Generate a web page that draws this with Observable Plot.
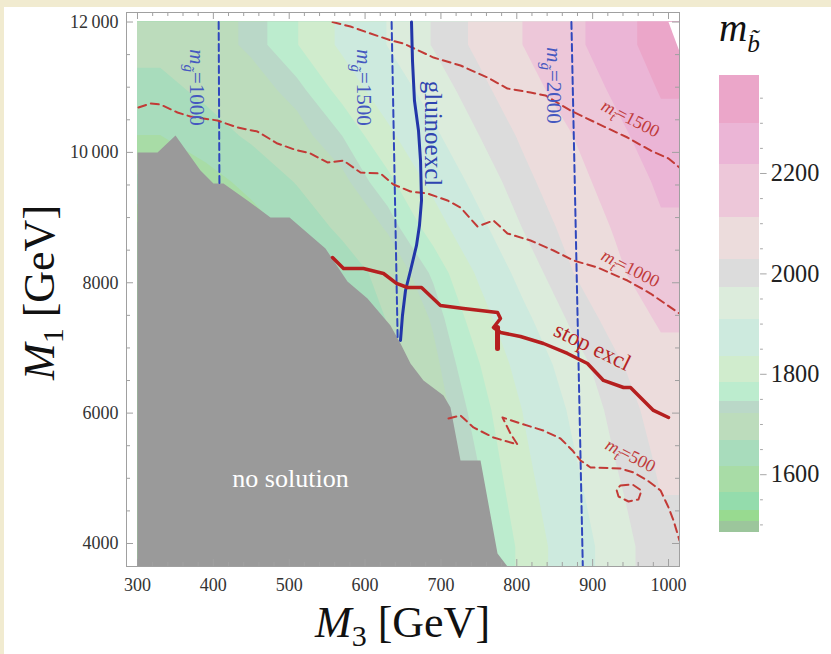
<!DOCTYPE html>
<html><head><meta charset="utf-8">
<script src="https://cdn.jsdelivr.net/npm/d3@7"></script>
<script src="https://cdn.jsdelivr.net/npm/@observablehq/plot@0.6"></script>
<style>
body{margin:0;background:#f1ebd0;width:831px;height:654px;overflow:hidden;}
#box{position:absolute;left:4px;top:7px;width:827px;height:647px;background:#fff;overflow:hidden}
#inner,#outer{position:absolute;left:0;top:0}
#legend{position:absolute;left:715px;top:0}
svg{overflow:visible}
</style></head><body><div id="box"><div id="inner"></div><div id="outer"></div><div id="legend"></div></div>
<script>
// ---- data: sbottom mass sampled on a grid (cell centres) ----
const M3cells = [330, 390, 450, 510, 570, 630, 690, 750, 810, 870, 930, 990];
const M1cells = [11650, 10950, 10250, 9550, 8850, 8150, 7450, 6750, 6050, 5350, 4650, 3950];
const msbottom = [
  [1685, 1706, 1727, 1781, 1846, 1912, 1977, 2044, 2116, 2193, 2266, 2337],
  [1653, 1680, 1706, 1732, 1799, 1869, 1938, 2008, 2077, 2153, 2233, 2306],
  [1615, 1646, 1677, 1707, 1746, 1821, 1897, 1972, 2041, 2107, 2192, 2273],
  [1555, 1594, 1633, 1672, 1711, 1770, 1852, 1933, 2011, 2077, 2152, 2236],
  [1500, 1545, 1590, 1636, 1681, 1726, 1805, 1892, 1978, 2050, 2121, 2204],
  [1430, 1482, 1535, 1587, 1639, 1691, 1752, 1844, 1937, 2022, 2095, 2172],
  [1402, 1456, 1510, 1564, 1618, 1672, 1726, 1808, 1895, 1981, 2055, 2126],
  [1387, 1441, 1495, 1549, 1603, 1657, 1711, 1781, 1861, 1940, 2016, 2083],
  [1376, 1430, 1484, 1538, 1592, 1646, 1700, 1762, 1839, 1916, 1992, 2058],
  [1367, 1421, 1475, 1529, 1583, 1637, 1691, 1749, 1825, 1900, 1975, 2041],
  [1358, 1412, 1466, 1520, 1574, 1628, 1682, 1737, 1811, 1884, 1958, 2026],
  [1349, 1403, 1457, 1511, 1565, 1619, 1673, 1727, 1797, 1870, 1942, 2012]
];
// contour bands of the legend
const bandLo = [1484, 1506, 1528, 1565, 1616, 1669, 1721, 1746, 1783, 1835, 1910, 1973, 2028, 2113, 2218, 2300];
const bandHi = [1506, 1528, 1565, 1616, 1669, 1721, 1746, 1783, 1835, 1910, 1973, 2028, 2113, 2218, 2300, 2395];
const bandColors = ["#9cc69c", "#98da90", "#94dcac", "#a8dca6", "#a8dcbc", "#bcdcbc", "#bad8c8", "#bcecce",
                    "#d0eccd", "#cdeade", "#dcecdc", "#dcdcdc", "#ecdcdc", "#edc7d9", "#ebb5d6", "#eba6c9"];
const legendTicks = [1600, 1800, 2000, 2200];

const xMajor = [300, 400, 500, 600, 700, 800, 900, 1000];
const yMajor = [4000, 6000, 8000, 10000, 12000];

// no-solution region boundary [M3, M1]
const noSolution = [[300,3647],[300,10000],[326.4,9998],[350.1,10259],[383,9722],[400.1,9523],[413.3,9523],[445,9262],
  [475.3,9001],[500.4,9001],[547.8,8526],[576.8,8019],[603.2,7758],[633.5,7344],[646.7,7068],[659.9,6761],[677,6501],
  [703.4,6270],[712.6,6086],[725.8,5273],[752.2,5273],[774.6,3847],[787.7,3647]];
const noData = [[1000,12000],[1016,12000],[1016,11500]];

// gluino mass lines (dashed blue)
const mg1000 = [[407,12000],[408,9520]];
const mg1500 = [[635,12000],[643,7110]];
const mg2000 = [[872,12000],[887,3660]];
// gluino exclusion (solid blue)
const gluinoExcl = [[661.2,12000],[662.5,11409],[665.1,10796],[670.4,10336],[673.1,9875],[674.4,9262],[671.7,8878],
  [667.8,8572],[659.9,8188],[653.3,7881],[649.3,7498],[646.7,7114]];
// stop exclusion (solid red)
const stopExcl = [[557.1,8387],[571.6,8219],[597.9,8219],[624.3,8142],[641.4,7989],[655.9,7927],[674.4,7927],[699.4,7651],
  [729.7,7605],[774.6,7544],[778.5,7452],[769.3,7314],[778.5,7237],[804.9,7176],[835.2,7068],[866.8,6915],[893.2,6762],
  [914.3,6501],[940.7,6393],[949.9,6393],[967,6194],[980.2,6041],[1000,5933]];
const stopStub = [[774.6,7314],[774.6,6992]];
// stop mass contours (dashed red)
const mt1500 = [[557.1,12000],[580.8,11931],[603.2,11839],[634.8,11716],[650.6,11670],[670.4,11563],[690.2,11455],
  [725.8,11333],[761.4,11149],[787.7,10980],[818.1,10919],[837.8,10873],[870.8,10642],[906.4,10443],[945.9,10228],
  [976.3,10029],[1000,9906],[1014.5,9768]];
const mt1000 = [[301.3,10688],[317.1,10750],[330.3,10734],[352.7,10612],[369.8,10550],[405.4,10489],[431.8,10382],
  [458.1,10320],[484.5,10136],[506.9,10044],[528,9983],[550.4,9845],[571.6,9875],[594,9691],[620.3,9676],[637.5,9507],
  [659.9,9400],[682.3,9369],[708.7,9262],[725.8,9154],[748.2,8863],[769.3,8955],[787.7,8756],[818.1,8648],[848.4,8495],
  [874.8,8342],[906.4,8234],[945.9,8034],[976.2,7835],[1014.5,7528]];
const mt500 = [[710,5918],[725.8,5964],[742.9,5780],[769.3,5626],[800.9,5519],[791.7,5687],[781.2,5933],[804.9,5841],
  [835.2,5733],[857.6,5611],[873.4,5427],[884,5274],[897.2,5166],[936.7,5151],[953.8,5090],[972.3,4967],[989.5,4814],
  [1000,4553],[1006.6,4353],[1014.5,4047]];
const mt500loop = [[936.7,4890],[952.5,4905],[964.4,4813],[960.4,4675],[947.3,4644],[934.1,4721],[931.4,4829],[936.7,4890]];

// annotations [M3, M1, text]
const lblNoSol = [[501.7, 4997, "no solution"]];
const lblGluino = [[690.2, 10290, "gluinoexcl"]];
const lblStop = [[899.8, 7022, "stop excl"]];
const lblMg = [[377.8, 10995, "m|g\u0303|=1000"], [597.9, 10995, "m|g\u0303|=1500"], [848.4, 11026, "m|g\u0303|=2000"]];
const lblMt = [[949.9, 10520, "m|t\u0303|=1500"], [949.9, 8219, "m|t\u0303|=1000"], [949.9, 5350, "m|t\u0303|=500"]];

// ---- layout ----
const W = 827, H = 647;
const outerDomX = [285.5, 1014.5], outerDomY = [3647, 12146];
const dataDomX = [300, 1014.5], dataDomY = [3647, 12000];
const mL = 122, mR = 152, mT = 5, mB = 88;
const FW = W - mL - mR, FH = H - mT - mB;
const kx = FW / (outerDomX[1] - outerDomX[0]), ky = FH / (outerDomY[1] - outerDomY[0]);
const iL = mL + (dataDomX[0] - outerDomX[0]) * kx;
const iT = mT + (outerDomY[1] - dataDomY[1]) * ky;
const serif = "'Liberation Serif', 'Times New Roman', serif";
const thresholds = bandLo.map((v, i) => i === 0 ? 0 : v);
const xMinor = d3.range(300, 1001, 20).filter(v => v % 100 !== 0);
const yMinor = d3.range(4000, 12001, 500).filter(v => v % 2000 !== 0);
const stepX = M3cells[1] - M3cells[0], stepY = M1cells[0] - M1cells[1];
// pad the grid by repeating edge cells so the contour fills the whole data rectangle
const grid = [msbottom[0], ...msbottom, msbottom[msbottom.length - 1]].map(r => [r[0], ...r, r[r.length - 1]]);
const fmtY = d => d >= 10000 ? `${Math.floor(d / 1000)}\u2009${String(d % 1000).padStart(3, "0")}` : String(d);
const X = d => d[0], Y = d => d[1], T = d => d[2];
const tickColor = "#a0a0a0";

const inner = Plot.plot({
  width: W, height: H, marginLeft: iL, marginRight: mR, marginTop: iT, marginBottom: mB,
  x: {domain: dataDomX, axis: null},
  y: {domain: dataDomY, axis: null},
  color: {type: "ordinal", domain: thresholds, range: bandColors},
  style: {fontFamily: serif, fontSize: "18px", color: "#333", background: "transparent"},
  marks: [
    Plot.contour(grid.flat(), {
      width: M3cells.length + 2, height: M1cells.length + 2,
      x1: M3cells[0] - 1.5 * stepX, x2: M3cells[M3cells.length - 1] + 1.5 * stepX,
      y1: M1cells[0] + 1.5 * stepY, y2: M1cells[M1cells.length - 1] - 1.5 * stepY,
      fill: Plot.identity, thresholds, stroke: "none", clip: true
    }),
    Plot.line(noData, {x: X, y: Y, fill: "white", stroke: "none", clip: true}),
    Plot.line(noSolution, {x: X, y: Y, fill: "#9a9a9a", stroke: "none", clip: true}),
    ...[mg1000, mg1500, mg2000].map(l => Plot.line(l, {x: X, y: Y, stroke: "#2f47bd", strokeWidth: 2, strokeDasharray: "7,4"})),
    ...[mt1500, mt1000, mt500, mt500loop].map(l => Plot.line(l, {x: X, y: Y, stroke: "#c23a36", strokeWidth: 2, strokeDasharray: "8,5", clip: true})),
    Plot.line(gluinoExcl, {x: X, y: Y, stroke: "#2236a8", strokeWidth: 3}),
    Plot.line(stopExcl, {x: X, y: Y, stroke: "#b51f1f", strokeWidth: 3.5, strokeLinejoin: "round"}),
    Plot.line(stopStub, {x: X, y: Y, stroke: "#b51f1f", strokeWidth: 5}),
    Plot.text(lblNoSol, {x: X, y: Y, text: T, fill: "white", fontSize: 26}),
    Plot.text(lblGluino, {x: X, y: Y, text: T, fill: "#2f44b0", fontSize: 25, rotate: 90}),
    Plot.text(lblStop, {x: X, y: Y, text: T, fill: "#b52424", fontSize: 23, rotate: 26}),
    Plot.text(lblMg, {x: X, y: Y, text: T, fill: "#4558c0", fontSize: 21, rotate: 90}),
    Plot.text(lblMt, {x: X, y: Y, text: T, fill: "#c03a3a", fontSize: 18, rotate: 27})
  ]
});
document.getElementById("inner").append(inner);

// rich text (italic m with tilde subscript)
d3.select(inner).selectAll("text").each(function () {
  const s = this.textContent;
  if (!s.includes("|")) return;
  const [a, b, c] = s.split("|");
  const fs = parseFloat(getComputedStyle(this).fontSize) || 18;
  const t = d3.select(this); t.text(null);
  t.append("tspan").attr("font-style", "italic").text(a);
  t.append("tspan").attr("font-style", "italic").attr("font-size", fs * 0.72).attr("dy", fs * 0.28).text(b);
  t.append("tspan").attr("dy", -fs * 0.28).text(c);
});

const outer = Plot.plot({
  width: W, height: H, marginLeft: mL, marginRight: mR, marginTop: mT, marginBottom: mB,
  x: {domain: outerDomX},
  y: {domain: outerDomY},
  style: {fontFamily: serif, fontSize: "18px", color: "#333", background: "transparent"},
  marks: [
    Plot.frame({stroke: tickColor}),
    Plot.tickX(xMajor, {x: d => d, insetTop: FH - 7, stroke: tickColor}),
    Plot.tickX(xMajor, {x: d => d, insetBottom: FH - 7, stroke: tickColor}),
    Plot.tickX(xMinor, {x: d => d, insetTop: FH - 4, stroke: tickColor}),
    Plot.tickX(xMinor, {x: d => d, insetBottom: FH - 4, stroke: tickColor}),
    Plot.tickY(yMajor, {y: d => d, insetRight: FW - 7, stroke: tickColor}),
    Plot.tickY(yMajor, {y: d => d, insetLeft: FW - 7, stroke: tickColor}),
    Plot.tickY(yMinor, {y: d => d, insetRight: FW - 4, stroke: tickColor}),
    Plot.tickY(yMinor, {y: d => d, insetLeft: FW - 4, stroke: tickColor}),
    Plot.axisX(xMajor, {anchor: "bottom", tickSize: 0, tickPadding: 12, tickFormat: d => String(d), label: null}),
    Plot.axisY(yMajor, {anchor: "left", tickSize: 0, tickPadding: 8, tickFormat: fmtY, label: null})
  ]
});
document.getElementById("outer").append(outer);

// axis titles
function axisTitle(g, sub) {
  g.attr("font-family", serif).attr("font-size", 44).attr("fill", "#111").attr("text-anchor", "start");
  g.append("tspan").attr("font-style", "italic").text("M");
  g.append("tspan").attr("font-size", 30).attr("dy", 9).text(sub);
  g.append("tspan").attr("dy", -9).text(" [GeV]");
}
axisTitle(d3.select(outer).append("text").attr("x", 311).attr("y", 630), "3");
axisTitle(d3.select(outer).append("text").attr("transform", "translate(50,373) rotate(-90)"), "1");

// ---- colour bar legend ----
const bands = bandLo.map((lo, i) => ({lo, hi: bandHi[i], color: bandColors[i]}));
const legend = Plot.plot({
  width: 120, height: 583, marginLeft: 0, marginRight: 77, marginTop: 73, marginBottom: 20,
  x: {domain: [0, 1], axis: null},
  y: {domain: [bandLo[0], bandHi[bandHi.length - 1]], axis: null},
  color: {type: "identity"},
  style: {fontFamily: serif, fontSize: "26px", color: "#222", background: "transparent"},
  marks: [
    Plot.rect(bands, {x1: 0, x2: 1, y1: "lo", y2: "hi", fill: "color", shapeRendering: "crispEdges"}),
    Plot.axisY(d3.range(1500, 2351, 50).filter(v => !legendTicks.includes(v)), {anchor: "right", tickSize: 3, tickFormat: () => "", stroke: tickColor, label: null}),
    Plot.axisY(legendTicks, {anchor: "right", tickSize: 7, tickPadding: 5, stroke: tickColor, tickFormat: d => String(d), label: null})
  ]
});
document.getElementById("legend").append(legend);
const lt = d3.select(legend).append("text").attr("x", 0).attr("y", 36).attr("text-anchor", "start")
  .attr("font-family", serif).attr("font-size", 42).attr("fill", "#111");
lt.append("tspan").attr("font-style", "italic").text("m");
lt.append("tspan").attr("font-style", "italic").attr("font-size", 27).attr("dy", 12).text("b\u0303");
</script></body></html>
